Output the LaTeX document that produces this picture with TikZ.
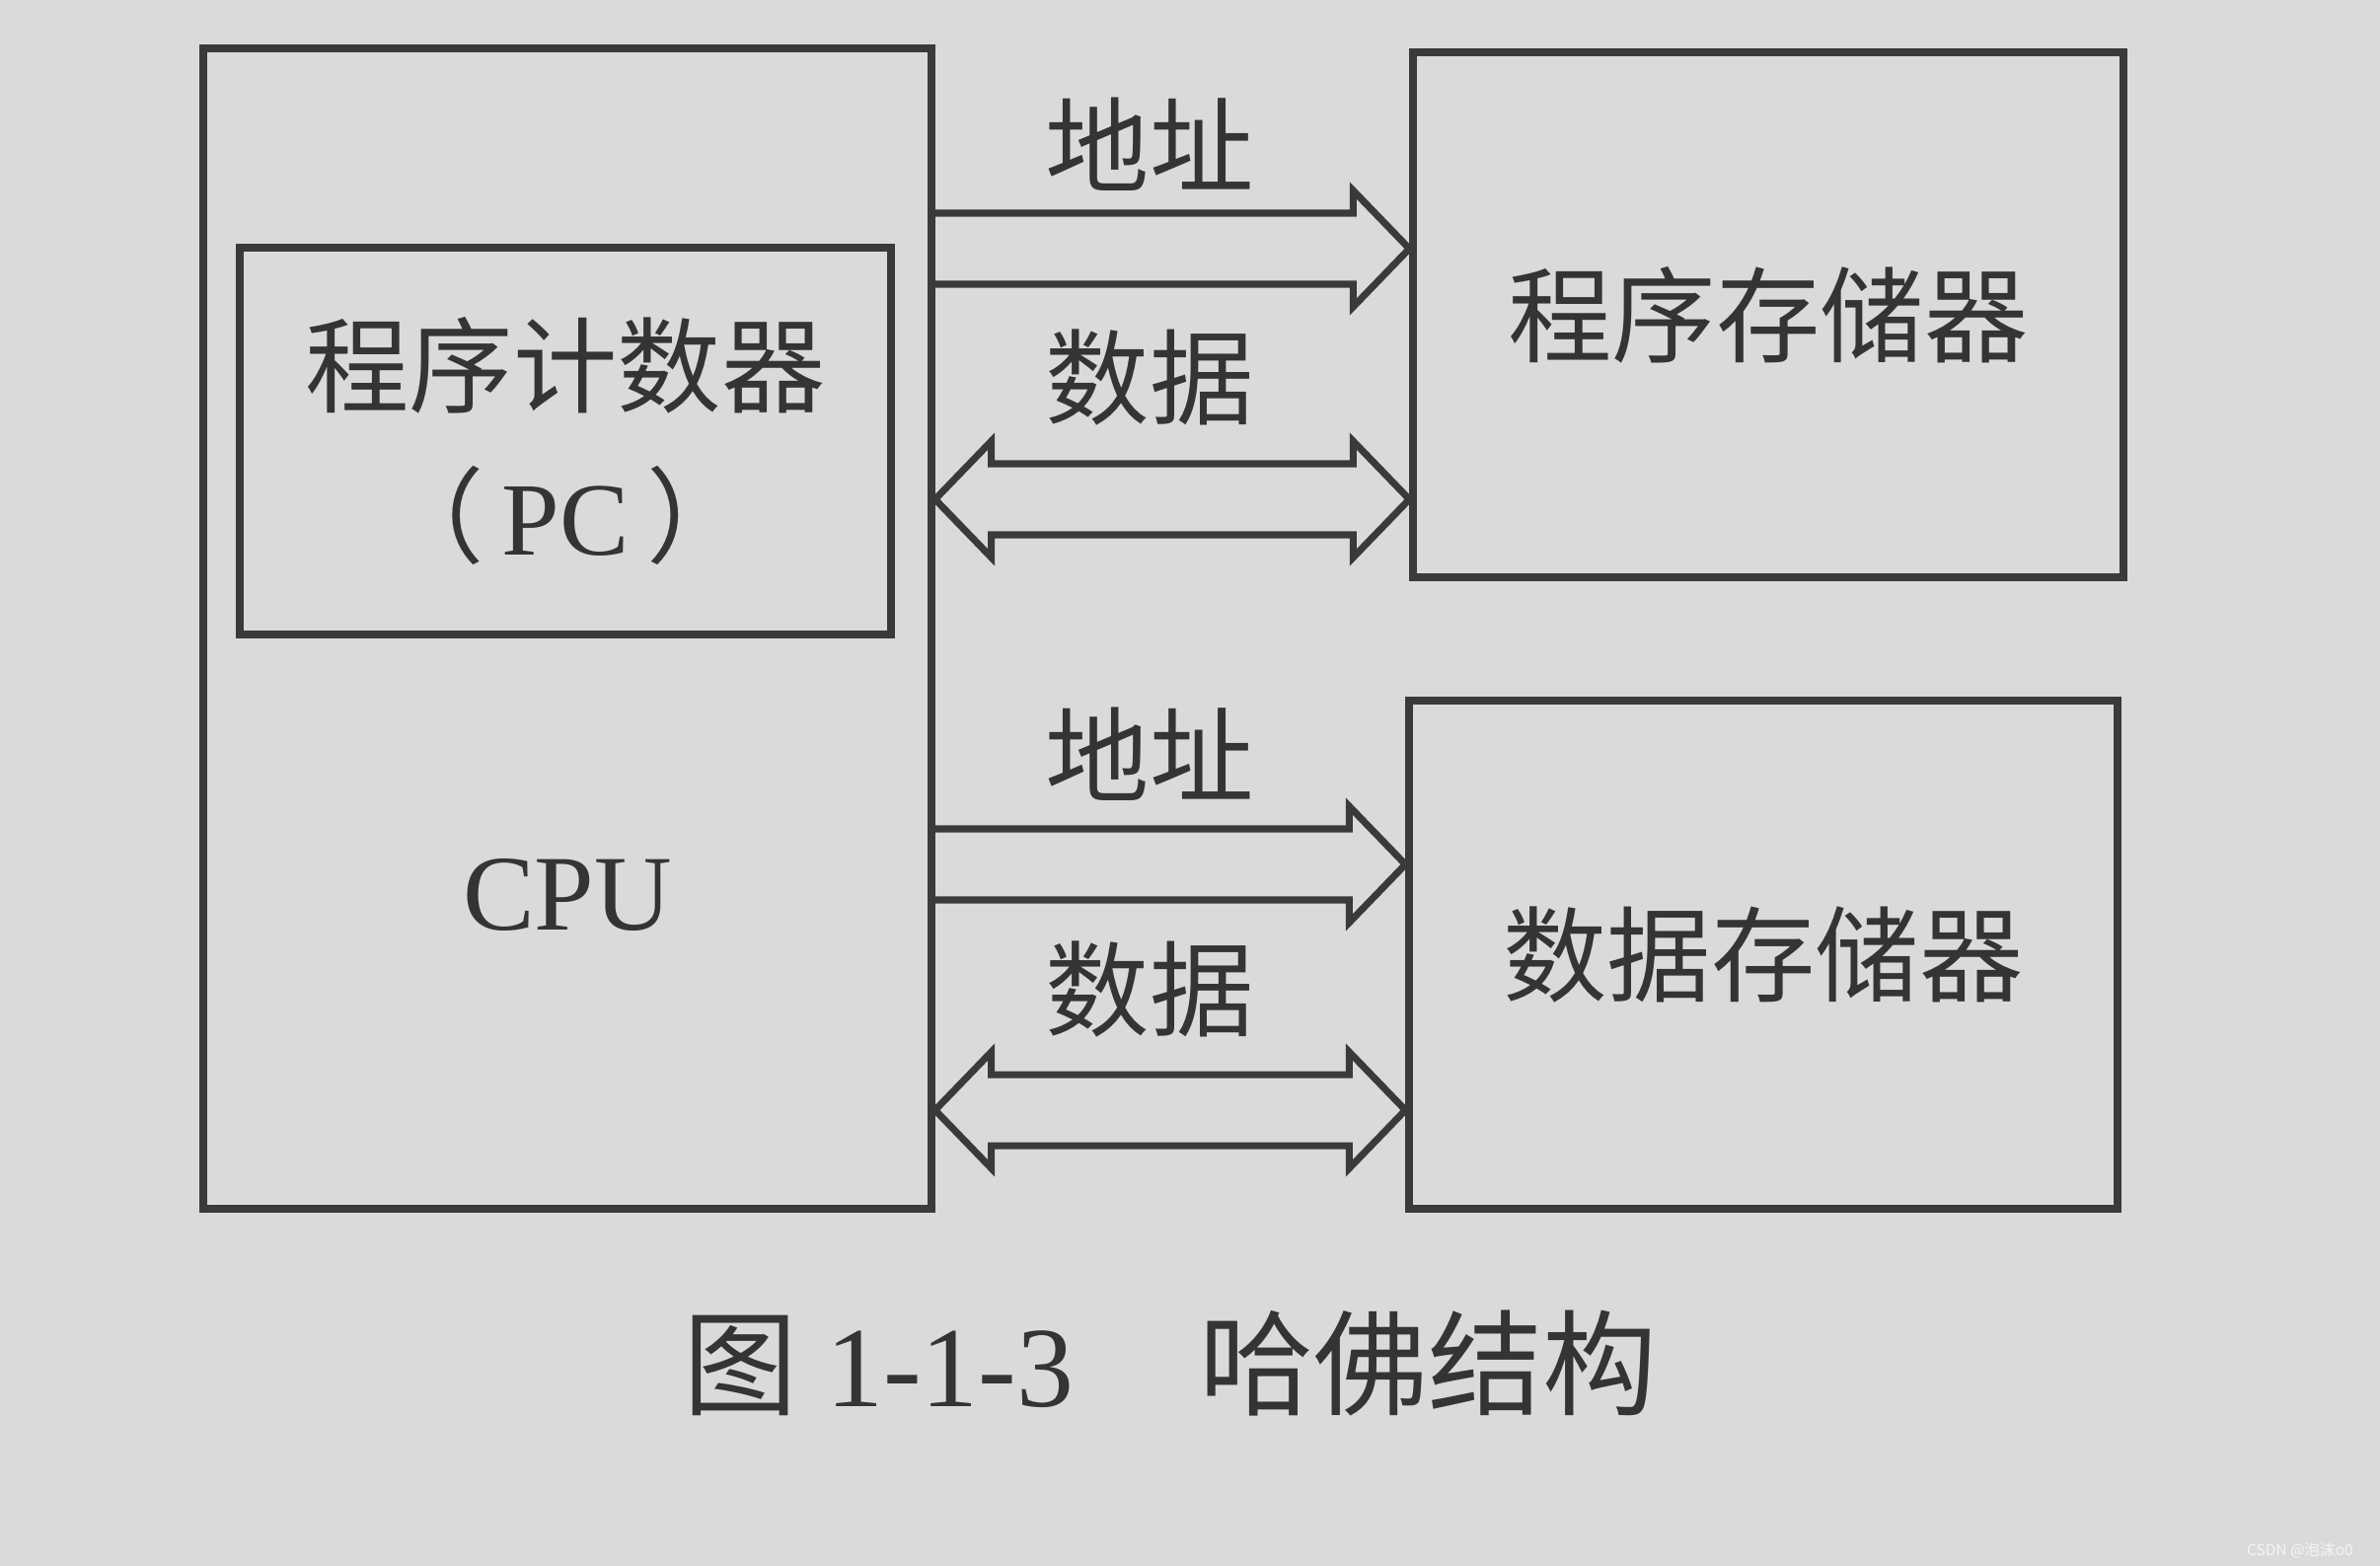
\documentclass[tikz,border=0pt]{standalone}
\usepackage{fontspec}
\setmainfont{Liberation Serif}
\newfontfamily\cjk{Noto Sans CJK SC}
\usetikzlibrary{calc}
\definecolor{colPaper}{RGB}{218,219,217}
\definecolor{colLine} {RGB}{58,58,58}
\definecolor{colText} {RGB}{52,52,52}
\definecolor{colMark} {RGB}{245,245,245}
\tikzset{
  box/.style     = {draw=colLine, line width=2.1pt, inner sep=0pt, text=colText},
  boxtext/.style = {font=\cjk\fontsize{30}{43}\selectfont, align=center},
  bus/.style     = {draw=colLine, line width=2pt},
  buslabel/.style= {font=\cjk\fontsize{30}{36}\selectfont, text=colText},
}
% bus geometry (cm)
\def\shaft{0.36}
\def\headhalf{0.59}
\def\wingout{0.23}
\def\headlen{0.57}
% one way bus: #1 from node, #2 to node, #3 level coordinate
\newcommand{\busright}[3]{%
  \draw[bus] ($(#1.east |- #3)+(0,\shaft)$) -- ($(#2.west |- #3)+(-\headlen,\shaft)$)
    -- ++(0,\wingout) -- (#2.west |- #3) -- ++(-\headlen,-\headhalf) -- ++(0,\wingout)
    -- ($(#1.east |- #3)+(0,-\shaft)$);}
% two way bus
\newcommand{\busboth}[3]{%
  \draw[bus] (#1.east |- #3) -- ++(\headlen,\headhalf) -- ++(0,-\wingout)
    -- ($(#2.west |- #3)+(-\headlen,\shaft)$) -- ++(0,\wingout) -- (#2.west |- #3)
    -- ++(-\headlen,-\headhalf) -- ++(0,\wingout)
    -- ($(#1.east |- #3)+(\headlen,-\shaft)$) -- ++(0,-\wingout) -- cycle;}

\begin{document}
\begin{tikzpicture}

%% ── paper ────────────────────────────────────────────────────────────────────
\fill[colPaper] (0,0) rectangle (24.12,-15.87);
\useasboundingbox (0,0) rectangle (24.12,-15.87);

%% ── CPU side ─────────────────────────────────────────────────────────────────
\node[box, minimum width=73.8mm, minimum height=117.6mm] (cpu) at (5.75,-6.37) {};
\node[box, boxtext, minimum width=66mm, minimum height=39.2mm] (pc) at (5.73,-4.47)
  {程序计数器\\（\,{\rmfamily PC}\,）};
\node[font=\fontsize{31}{36}\selectfont, text=colText] (cpuName) at (5.75,-9.07) {CPU};

%% ── memories ─────────────────────────────────────────────────────────────────
\node[box, boxtext, minimum width=72mm, minimum height=53.2mm] (progMem) at (17.92,-3.19)
  {程序存储器};
\node[box, boxtext, minimum width=71.8mm, minimum height=51.5mm] (dataMem) at (17.87,-9.675)
  {数据存储器};

%% ── bus levels ───────────────────────────────────────────────────────────────
\coordinate (busA) at (11.9,-2.52);
\coordinate (busB) at (11.9,-5.06);
\coordinate (busC) at (11.9,-8.76);
\coordinate (busD) at (11.9,-11.25);

%% ── buses ────────────────────────────────────────────────────────────────────
\busright{cpu}{progMem}{busA}
\busboth{cpu}{progMem}{busB}
\busright{cpu}{dataMem}{busC}
\busboth{cpu}{dataMem}{busD}

\node[buslabel] (addrA) at (11.65,-1.46)  {地址};
\node[buslabel] (dataB) at (11.65,-3.83)  {数据};
\node[buslabel] (addrC) at (11.65,-7.64)  {地址};
\node[buslabel] (dataD) at (11.65,-10.03) {数据};

%% ── caption ──────────────────────────────────────────────────────────────────
\node[font=\fontsize{33}{40}\selectfont, text=colText] (caption) at (11.86,-13.82)
  {{\cjk 图} 1-1-3\hspace{1.1em}{\cjk 哈佛结构}};

\node[font=\cjk\fontsize{4.4}{5}\selectfont, text=colMark, anchor=east] (mark)
  at (23.97,-15.71) {CSDN @泡沫o0};

\end{tikzpicture}
\end{document}
